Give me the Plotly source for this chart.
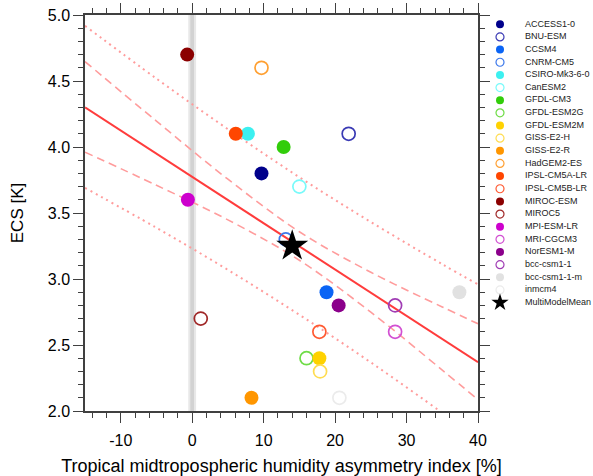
import plotly.graph_objects as go

# ---------------- data ----------------
models = ["ACCESS1-0", "BNU-ESM", "CCSM4", "CNRM-CM5", "CSIRO-Mk3-6-0", "CanESM2",
          "GFDL-CM3", "GFDL-ESM2G", "GFDL-ESM2M", "GISS-E2-H", "GISS-E2-R",
          "HadGEM2-ES", "IPSL-CM5A-LR", "IPSL-CM5B-LR", "MIROC-ESM", "MIROC5",
          "MPI-ESM-LR", "MRI-CGCM3", "NorESM1-M", "bcc-csm1-1", "bcc-csm1-1-m", "inmcm4"]
humidity_index = [9.7, 21.9, 18.8, 13.1, 7.8, 15.0,
                  12.8, 16.0, 17.8, 17.9, 8.3,
                  9.7, 6.1, 17.8, -0.7, 1.2,
                  -0.6, 28.4, 20.5, 28.4, 37.4, 20.6]
ecs = [3.8, 4.1, 2.9, 3.3, 4.1, 3.7,
       4.0, 2.4, 2.4, 2.3, 2.1,
       4.6, 4.1, 2.6, 4.7, 2.7,
       3.6, 2.6, 2.8, 2.8, 2.9, 2.1]
model_colors = ["#00008B", "#3A3AB4", "#0A64F5", "#3C78EB", "#3CF0F0", "#78FAFA",
                "#32CD0A", "#6EDC46", "#FFD200", "#FFDC50", "#FF9600",
                "#FFA032", "#FF4600", "#FF5A32", "#8B0000", "#A02828",
                "#CD00CD", "#D250D2", "#8B008B", "#A03CB4", "#E1E1E1", "#EBEBEB"]
filled = [True, False, True, False, True, False,
          True, False, True, False, True,
          False, True, False, True, False,
          True, False, True, False, True, False]

mmm_label = "MultiModelMean"
mmm_x = [14.0]
mmm_y = [3.25]

# regression line and bands
fit_x = [-15, -5, 5, 15, 25, 35, 40]
fit_y = [4.30, 3.95, 3.60, 3.25, 2.90, 2.55, 2.37]
conf_upper = [4.647, 4.196, 3.756, 3.358, 3.051, 2.788, 2.661]
conf_lower = [3.961, 3.710, 3.448, 3.142, 2.749, 2.310, 2.085]
pred_upper = [4.918, 4.518, 4.135, 3.771, 3.432, 3.112, 2.959]
pred_lower = [3.690, 3.388, 3.069, 2.729, 2.368, 1.986, 1.787]

zero_ref = 0.0

x_ticks = [-10, 0, 10, 20, 30, 40]
x_tick_labels = ["-10", "0", "10", "20", "30", "40"]
y_ticks = [2.0, 2.5, 3.0, 3.5, 4.0, 4.5, 5.0]

# ---------------- figure ----------------
FONT = "Liberation Sans, Arial, Helvetica, sans-serif"
AX = "#404040"
fig = go.Figure()

band_col = "#FF9C9C"
for yy in (pred_upper, pred_lower):
    fig.add_trace(go.Scatter(x=fit_x, y=yy, mode="lines", line_shape="spline",
                             line=dict(color=band_col, width=2, dash="2px,4px"),
                             hoverinfo="skip", showlegend=False))
for yy in (conf_upper, conf_lower):
    fig.add_trace(go.Scatter(x=fit_x, y=yy, mode="lines", line_shape="spline",
                             line=dict(color=band_col, width=1.6, dash="8px,5px"),
                             hoverinfo="skip", showlegend=False))
fig.add_trace(go.Scatter(x=fit_x, y=fit_y, mode="lines",
                         line=dict(color="#FF3C3C", width=2),
                         hoverinfo="skip", showlegend=False))

symbols = ["circle" if f else "circle-open" for f in filled]
sizes = [14 if f else 13 for f in filled]
lw = [0 if f else 1.7 for f in filled]
fig.add_trace(go.Scatter(x=humidity_index, y=ecs, mode="markers", text=models,
                         marker=dict(symbol=symbols, size=sizes, color=model_colors, opacity=1,
                                     line=dict(width=lw, color=model_colors)),
                         showlegend=False))
fig.add_trace(go.Scatter(x=mmm_x, y=mmm_y, mode="markers", text=[mmm_label],
                         marker=dict(symbol="star", size=24, color="black", opacity=1),
                         showlegend=False))

# custom legend drawn on a hidden second axis pair
leg_names = models + [mmm_label]
leg_idx = list(range(len(leg_names)))
leg_symbols = ["circle" if f else "circle-open" for f in filled] + ["star"]
leg_colors = model_colors + ["black"]
leg_sizes = [8] * len(models) + [13]
leg_lw = [0 if f else 1.2 for f in filled] + [0]
fig.add_trace(go.Scatter(x=[10] * len(leg_names), y=leg_idx, mode="markers",
                         xaxis="x2", yaxis="y2", hoverinfo="skip",
                         marker=dict(symbol=leg_symbols, size=leg_sizes, color=leg_colors, opacity=1,
                                     line=dict(width=leg_lw, color=leg_colors)),
                         showlegend=False))
fig.add_trace(go.Scatter(x=[35] * len(leg_names), y=leg_idx, mode="text",
                         text=leg_names, textposition="middle right",
                         textfont=dict(family=FONT, size=9, color="#222"),
                         xaxis="x2", yaxis="y2", hoverinfo="skip", cliponaxis=False,
                         showlegend=False))

# grey reference band at zero
fig.add_shape(type="rect", xref="x", yref="paper", x0=zero_ref - 0.55, x1=zero_ref + 0.55,
              y0=0, y1=1, fillcolor="#E8E8E8", line_width=0, layer="below")
fig.add_shape(type="rect", xref="x", yref="paper", x0=zero_ref - 0.26, x1=zero_ref + 0.26,
              y0=0, y1=1, fillcolor="#D2D2D2", line_width=0, layer="below")

W, H = 593, 476
L, R, T, B = 85, 0, 15, 65
pw = W - L - R
axis_common = dict(showline=True, linecolor=AX, linewidth=1.5, mirror="allticks",
                   ticks="outside", ticklen=10, tickwidth=1.2, tickcolor=AX,
                   showgrid=False, zeroline=False, automargin=False,
                   tickfont=dict(family=FONT, size=16, color="black"))
fig.update_layout(
    width=W, height=H, margin=dict(l=L, r=R, t=T, b=B),
    paper_bgcolor="white", plot_bgcolor="white",
    font=dict(family=FONT, color="black"),
    xaxis=dict(domain=[0, (478 - L) / pw], range=[-15, 40], tickvals=x_ticks,
               ticktext=x_tick_labels, ticklabelstandoff=4,
               minor=dict(dtick=2, tick0=0, ticks="outside", ticklen=5, tickcolor=AX, tickwidth=1),
               title=dict(text="Tropical midtropospheric humidity asymmetry index [%]",
                          font=dict(family=FONT, size=18), standoff=12),
               **axis_common),
    yaxis=dict(domain=[0, 1], range=[2, 5], tickvals=y_ticks, tickformat=".1f",
               minor=dict(dtick=0.1, tick0=2, ticks="outside", ticklen=5, tickcolor=AX, tickwidth=1),
               title=dict(text="ECS [K]", font=dict(family=FONT, size=17), standoff=20),
               **axis_common),
    xaxis2=dict(domain=[(490 - L) / pw, 1], range=[0, 103], visible=False, anchor="y2"),
    yaxis2=dict(domain=[0, 1], range=[30.57, -0.735], visible=False, anchor="x2"),
)

fig.write_html("out.html", config={"displayModeBar": False},
               post_script="document.body.style.margin='0';document.body.style.overflow='hidden';")
